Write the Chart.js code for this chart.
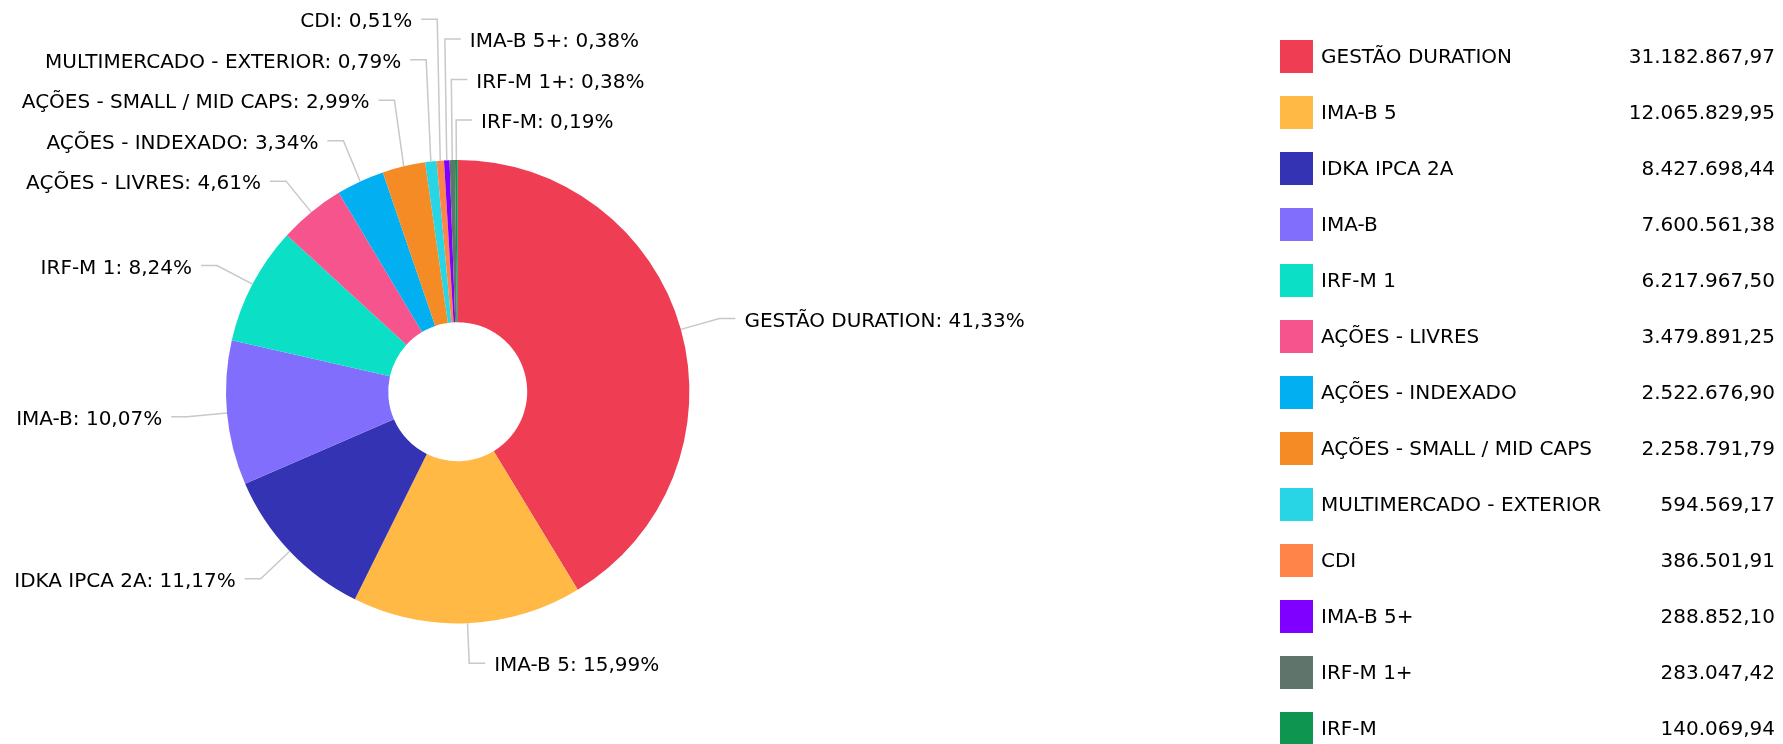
<!DOCTYPE html>
<html>
<head>
<meta charset="utf-8">
<script src="https://cdn.jsdelivr.net/npm/chart.js@4.4.1/dist/chart.umd.min.js"></script>
<style>
  html, body { margin: 0; padding: 0; background: #fff; }
</style>
</head>
<body>
<canvas id="myChart" width="1783" height="744"></canvas>
<script>
const labels = [
  'GESTÃO DURATION', 'IMA-B 5', 'IDKA IPCA 2A', 'IMA-B', 'IRF-M 1',
  'AÇÕES - LIVRES', 'AÇÕES - INDEXADO', 'AÇÕES - SMALL / MID CAPS',
  'MULTIMERCADO - EXTERIOR', 'CDI', 'IMA-B 5+', 'IRF-M 1+', 'IRF-M'
];
const values = [
  31182867.97, 12065829.95, 8427698.44, 7600561.38, 6217967.50,
  3479891.25, 2522676.90, 2258791.79, 594569.17, 386501.91,
  288852.10, 283047.42, 140069.94
];
const colors = [
  '#ef3e54', '#ffb944', '#3333b3', '#826efc', '#0be0c6',
  '#f6548c', '#02b0f1', '#f58b24', '#28d5e5', '#ff844a',
  '#8000ff', '#5f756b', '#0e954f'
];

const FONT = '20px "DejaVu Sans", sans-serif';

function fmtBR(v) {
  const parts = v.toFixed(2).split('.');
  return parts[0].replace(/\B(?=(\d{3})+(?!\d))/g, '.') + ',' + parts[1];
}

const total = values.reduce((a, b) => a + b, 0);

// labels around the pie with leader lines
const pieLabels = {
  id: 'pieLabels',
  afterDatasetsDraw(chart) {
    const ctx = chart.ctx;
    const arcs = chart.getDatasetMeta(0).data;
    const gap = 40.5;
    let left = [], right = [];

    arcs.forEach((arc, i) => {
      const p = arc.getProps(['x', 'y', 'startAngle', 'endAngle', 'outerRadius'], true);
      const mid = (p.startAngle + p.endAngle) / 2;
      const rr = p.outerRadius + 40;
      let a = mid + Math.PI / 2; // clockwise from top
      a = ((a % (2 * Math.PI)) + 2 * Math.PI) % (2 * Math.PI);
      const item = {
        i: i,
        ex: p.x + Math.cos(mid) * p.outerRadius,
        ey: p.y + Math.sin(mid) * p.outerRadius,
        bx: p.x + Math.cos(mid) * rr,
        y: p.y + Math.sin(mid) * rr,
        isLeft: Math.cos(mid) < -0.06
      };
      if (item.isLeft) {
        item.key = -a;
        left.push(item);
      } else {
        item.key = a > Math.PI ? a - 2 * Math.PI : a;
        right.push(item);
      }
    });

    [left, right].forEach(side => {
      side.sort((m, n) => m.key - n.key);
      for (let k = side.length - 2; k >= 0; k--) {
        side[k].y = Math.min(side[k].y, side[k + 1].y - gap);
      }
      if (side.length && side[0].y < 15) {
        side[0].y = 15;
        for (let k = 1; k < side.length; k++) {
          side[k].y = Math.max(side[k].y, side[k - 1].y + gap);
        }
      }
    });

    ctx.save();
    ctx.font = FONT;
    ctx.textBaseline = 'middle';
    left.concat(right).forEach(it => {
      const dir = it.isLeft ? -1 : 1;
      ctx.strokeStyle = '#c8c8c8';
      ctx.lineWidth = 1.5;
      ctx.beginPath();
      ctx.moveTo(it.ex, it.ey);
      ctx.lineTo(it.bx, it.y);
      ctx.lineTo(it.bx + dir * 16, it.y);
      ctx.stroke();
      const pct = (values[it.i] / total * 100).toFixed(2).replace('.', ',');
      ctx.fillStyle = '#000';
      ctx.textAlign = it.isLeft ? 'right' : 'left';
      ctx.fillText(labels[it.i] + ': ' + pct + '%', it.bx + dir * 25, it.y + 3);
    });
    ctx.restore();
  }
};

// legend on the right with values
const sideLegend = {
  id: 'sideLegend',
  afterDraw(chart) {
    const ctx = chart.ctx;
    ctx.save();
    ctx.font = FONT;
    ctx.textBaseline = 'middle';
    labels.forEach((name, i) => {
      const top = 40 + i * 56;
      ctx.fillStyle = colors[i];
      ctx.fillRect(1280, top, 33, 33);
      ctx.fillStyle = '#000';
      ctx.textAlign = 'left';
      ctx.fillText(name, 1321, top + 18);
      ctx.textAlign = 'right';
      ctx.fillText(fmtBR(values[i]), 1775, top + 18);
    });
    ctx.restore();
  }
};

const myChart = new Chart(document.getElementById('myChart'), {
  type: 'doughnut',
  data: {
    labels: labels,
    datasets: [{
      data: values,
      backgroundColor: colors,
      borderWidth: 0
    }]
  },
  options: {
    responsive: false,
    devicePixelRatio: 1,
    animation: false,
    cutout: '30%',
    layout: {
      padding: { left: 226, right: 1093.6, top: 160, bottom: 120.6 }
    },
    plugins: {
      legend: { display: false },
      tooltip: { enabled: false }
    }
  },
  plugins: [pieLabels, sideLegend]
});
</script>
</body>
</html>
